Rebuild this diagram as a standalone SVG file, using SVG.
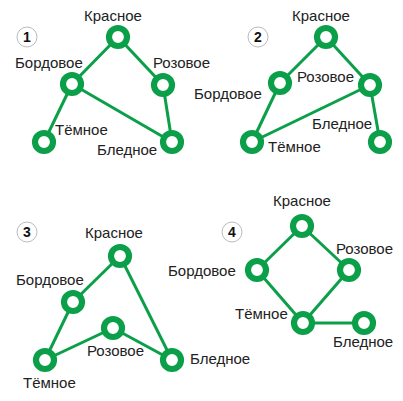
<svg xmlns="http://www.w3.org/2000/svg" width="403" height="401" viewBox="0 0 403 401">
<style>
.e{stroke:#0a9f48;stroke-width:3;fill:none}
.n{fill:#fff;stroke:#0a9f48;stroke-width:6.2}
.t{font-family:"Liberation Sans",Arial,sans-serif;font-size:15px;fill:#222}
.b{fill:#fff;stroke:#bbb;stroke-width:1}
.bt{font-family:"Liberation Sans",Arial,sans-serif;font-size:14px;font-weight:bold;fill:#111;text-anchor:middle}
</style>
<rect width="403" height="401" fill="#fff"/>
<g id="badges">
<circle class="b" cx="27" cy="37" r="10"/><text class="bt" x="27" y="42">1</text>
<circle class="b" cx="258" cy="37" r="10"/><text class="bt" x="258" y="42">2</text>
<circle class="b" cx="27" cy="232" r="10"/><text class="bt" x="27" y="237">3</text>
<circle class="b" cx="232" cy="232" r="10"/><text class="bt" x="232" y="237">4</text>
</g>
<g id="connectors">
<line class="e" x1="118" y1="37" x2="72" y2="84"/>
<line class="e" x1="118" y1="37" x2="163" y2="85"/>
<line class="e" x1="72" y1="84" x2="44" y2="142"/>
<line class="e" x1="72" y1="84" x2="172" y2="142"/>
<line class="e" x1="163" y1="85" x2="172" y2="142"/>
<line class="e" x1="326" y1="37" x2="280" y2="83"/>
<line class="e" x1="326" y1="37" x2="370" y2="85"/>
<line class="e" x1="280" y1="83" x2="252" y2="142"/>
<line class="e" x1="252" y1="142" x2="370" y2="85"/>
<line class="e" x1="370" y1="85" x2="380" y2="142"/>
<line class="e" x1="120" y1="256" x2="73" y2="302"/>
<line class="e" x1="120" y1="256" x2="172" y2="360"/>
<line class="e" x1="73" y1="302" x2="45" y2="360"/>
<line class="e" x1="45" y1="360" x2="113" y2="328"/>
<line class="e" x1="113" y1="328" x2="172" y2="360"/>
<line class="e" x1="302" y1="226" x2="257" y2="270"/>
<line class="e" x1="302" y1="226" x2="349" y2="270"/>
<line class="e" x1="257" y1="270" x2="303" y2="323"/>
<line class="e" x1="349" y1="270" x2="303" y2="323"/>
<line class="e" x1="303" y1="323" x2="364" y2="323"/>
</g>
<g id="p1-krasnoe"><circle class="n" cx="118" cy="37" r="9"/><text class="t" x="84" y="21">Красное</text></g>
<g id="p1-bordovoe"><circle class="n" cx="72" cy="84" r="9"/><text class="t" x="15" y="68">Бордовое</text></g>
<g id="p1-rozovoe"><circle class="n" cx="163" cy="85" r="9"/><text class="t" x="153" y="68">Розовое</text></g>
<g id="p1-temnoe"><circle class="n" cx="44" cy="142" r="9"/><text class="t" x="55" y="135">Тёмное</text></g>
<g id="p1-blednoe"><circle class="n" cx="172" cy="142" r="9"/><text class="t" x="97" y="155">Бледное</text></g>
<g id="p2-krasnoe"><circle class="n" cx="326" cy="37" r="9"/><text class="t" x="292" y="21">Красное</text></g>
<g id="p2-bordovoe"><circle class="n" cx="280" cy="83" r="9"/><text class="t" x="194" y="99">Бордовое</text></g>
<g id="p2-rozovoe"><circle class="n" cx="370" cy="85" r="9"/><text class="t" x="297" y="82">Розовое</text></g>
<g id="p2-temnoe"><circle class="n" cx="252" cy="142" r="9"/><text class="t" x="268" y="152">Тёмное</text></g>
<g id="p2-blednoe"><circle class="n" cx="380" cy="142" r="9"/><text class="t" x="312" y="129">Бледное</text></g>
<g id="p3-krasnoe"><circle class="n" cx="120" cy="256" r="9"/><text class="t" x="85" y="238">Красное</text></g>
<g id="p3-bordovoe"><circle class="n" cx="73" cy="302" r="9"/><text class="t" x="16" y="285">Бордовое</text></g>
<g id="p3-rozovoe"><circle class="n" cx="113" cy="328" r="9"/><text class="t" x="87" y="356">Розовое</text></g>
<g id="p3-temnoe"><circle class="n" cx="45" cy="360" r="9"/><text class="t" x="23" y="388">Тёмное</text></g>
<g id="p3-blednoe"><circle class="n" cx="172" cy="360" r="9"/><text class="t" x="190" y="364">Бледное</text></g>
<g id="p4-krasnoe"><circle class="n" cx="302" cy="226" r="9"/><text class="t" x="273" y="206">Красное</text></g>
<g id="p4-bordovoe"><circle class="n" cx="257" cy="270" r="9"/><text class="t" x="168" y="276">Бордовое</text></g>
<g id="p4-rozovoe"><circle class="n" cx="349" cy="270" r="9"/><text class="t" x="336" y="254">Розовое</text></g>
<g id="p4-temnoe"><circle class="n" cx="303" cy="323" r="9"/><text class="t" x="235" y="319">Тёмное</text></g>
<g id="p4-blednoe"><circle class="n" cx="364" cy="323" r="9"/><text class="t" x="333" y="347">Бледное</text></g>
</svg>
